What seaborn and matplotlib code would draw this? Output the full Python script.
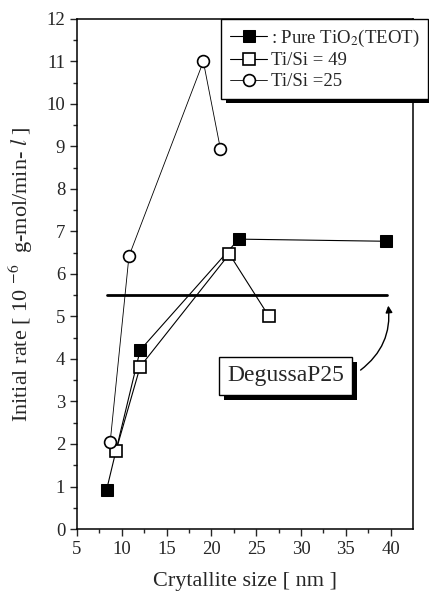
import numpy as np
import pandas as pd
import matplotlib
matplotlib.use("Agg")
import matplotlib.pyplot as plt
import matplotlib.patheffects as pe
import seaborn as sns

# data
pure_x = [8.3, 12.05, 23.05, 39.5]
pure_y = [0.92, 4.21, 6.82, 6.77]
ti49_x = [9.35, 12.05, 22.0, 26.4]
ti49_y = [1.84, 3.82, 6.47, 5.01]
ti25_x = [8.7, 10.8, 19.1, 21.0]
ti25_y = [2.04, 6.42, 11.0, 8.95]
degussa_x = [8.3, 39.6]
degussa_y = [5.5, 5.5]

labels = [": Pure TiO$_2$(TEOT)", "Ti/Si = 49", "Ti/Si =25"]

sns.set_style("ticks")
plt.rcParams["font.family"] = ["Liberation Serif", "DejaVu Serif"]
plt.rcParams["mathtext.fontset"] = "stix"

fig = plt.figure(figsize=(4.29, 5.91), dpi=100)
ax = fig.add_axes([0.1795, 0.1049, 0.7832, 0.8630])

sns.lineplot(x=pure_x, y=pure_y, ax=ax, color="black", lw=0.8, marker="s",
             markersize=8, markerfacecolor="black", markeredgecolor="black",
             label=labels[0])
sns.lineplot(x=ti49_x, y=ti49_y, ax=ax, color="black", lw=0.8, marker="s",
             markersize=8, markerfacecolor="white", markeredgecolor="black",
             markeredgewidth=1.2, label=labels[1])
sns.lineplot(x=ti25_x, y=ti25_y, ax=ax, color="black", lw=0.6, marker="o",
             markersize=8.5, markerfacecolor="white", markeredgecolor="black",
             markeredgewidth=1.2, label=labels[2])
sns.lineplot(x=degussa_x, y=degussa_y, ax=ax, color="black", lw=2.0)

ax.set_xlim(5, 42.5)
ax.set_ylim(0, 12)
ax.set_xticks(np.arange(5, 41, 5))
ax.set_xticks(np.arange(7.5, 42.5, 5), minor=True)
ax.set_yticks(np.arange(0, 13, 1))
ax.set_yticks(np.arange(0.5, 12, 1), minor=True)
ax.tick_params(which="major", direction="out", length=5, width=1, labelsize=13.5)
ax.tick_params(which="minor", direction="out", length=3, width=1)
for s in ax.spines.values():
    s.set_linewidth(1.1)
    s.set_color("black")

ax.set_xlabel("Crytallite size [ nm ]", fontsize=16, labelpad=10)
ax.set_ylabel(r"Initial rate [ 10 $^{-6}$  g-mol/min- $\mathit{l}$ ]", fontsize=16, labelpad=8)

leg = ax.legend(loc="upper left", bbox_to_anchor=(0.43, 1.0), borderaxespad=0,
                fancybox=False, edgecolor="black", framealpha=1, fontsize=13.5,
                handlelength=2.0, handletextpad=0.2, borderpad=0.45, labelspacing=0.2)
leg.get_frame().set_linewidth(1.0)
leg.get_frame().set_path_effects([pe.SimplePatchShadow(offset=(3, -3), shadow_rgbFace="black", alpha=1), pe.Normal()])

txt = ax.text(28.3, 3.6, "DegussaP25", fontsize=17, ha="center", va="center",
              bbox=dict(boxstyle="square,pad=0.35", fc="white", ec="black", lw=1.0))
txt.get_bbox_patch().set_path_effects([pe.SimplePatchShadow(offset=(3.5, -3.5), shadow_rgbFace="black", alpha=1), pe.Normal()])
ax.annotate("", xy=(39.7, 5.32), xytext=(36.4, 3.7),
            arrowprops=dict(arrowstyle="-|>", color="black", lw=1.0,
                            connectionstyle="arc3,rad=0.3", mutation_scale=10))

fig.savefig("out.png", dpi=100)
